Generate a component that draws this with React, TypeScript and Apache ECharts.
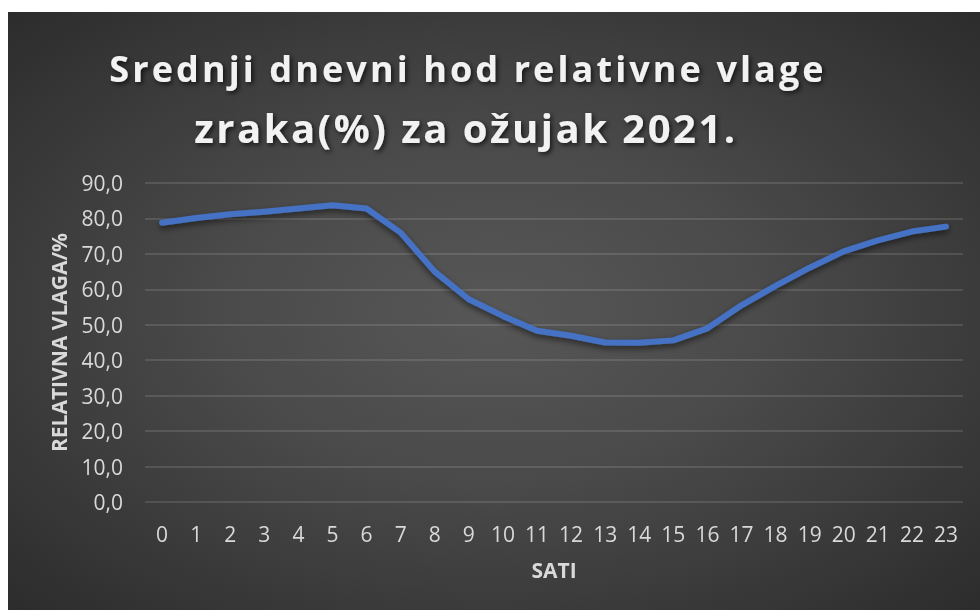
import React, { useEffect, useRef } from "react";
import * as echarts from "echarts";

const hours = ["0","1","2","3","4","5","6","7","8","9","10","11","12","13","14","15","16","17","18","19","20","21","22","23"];
const humidity = [78.8, 80.1, 81.2, 81.9, 82.8, 83.7, 82.8, 76.0, 65.0, 57.2, 52.5, 48.3, 46.9, 45.0, 44.9, 45.6, 49.0, 55.5, 61.0, 66.1, 70.7, 73.8, 76.3, 77.7];
const titleLines = ["Srednji dnevni hod relativne vlage", "zraka(%) za ožujak 2021."];
const yAxisName = "RELATIVNA VLAGA/%";
const xAxisName = "SATI";

export default function App() {
  const ref = useRef<HTMLDivElement>(null);
  useEffect(() => {
    if (!ref.current) return;
    const chart = echarts.init(ref.current, undefined, { renderer: "svg" });
    const titleStyle = {
      fill: "#f2f2f2",
      align: "center",
      verticalAlign: "top",
      textShadowColor: "rgba(0,0,0,0.7)",
      textShadowBlur: 5,
      textShadowOffsetX: 2,
      textShadowOffsetY: 2,
    };
    chart.setOption({
      animation: false,
      graphic: [
        { type: "text", x: 460, y: 38, style: { ...titleStyle, font: "bold 36px 'Open Sans'", text: titleLines[0] } },
        { type: "text", x: 458, y: 95, style: { ...titleStyle, font: "bold 40px 'Open Sans'", text: titleLines[1] } },
      ],
      grid: { left: 137, right: 17, top: 171, bottom: 108 },
      xAxis: {
        type: "category",
        data: hours,
        boundaryGap: true,
        name: xAxisName,
        nameLocation: "middle",
        nameGap: 57,
        nameTextStyle: { color: "#d9d9d9", fontFamily: "Open Sans", fontWeight: "bold", fontSize: 21 },
        axisLine: { show: false },
        axisTick: { show: false },
        axisLabel: { color: "#d9d9d9", fontFamily: "Open Sans", fontSize: 21, margin: 21, interval: 0 },
      },
      yAxis: {
        type: "value",
        min: 0,
        max: 90,
        interval: 10,
        name: yAxisName,
        nameLocation: "middle",
        nameGap: 76,
        nameTextStyle: { color: "#d9d9d9", fontFamily: "Open Sans", fontWeight: "bold", fontSize: 21 },
        axisLine: { show: false },
        axisTick: { show: false },
        axisLabel: {
          color: "#d9d9d9",
          fontFamily: "Open Sans",
          fontSize: 21,
          margin: 22,
          formatter: (v: number) => v.toFixed(1).replace(".", ","),
        },
        splitLine: { lineStyle: { color: "rgba(255,255,255,0.16)", width: 1.5 } },
      },
      series: [
        {
          type: "line",
          data: humidity,
          symbol: "none",
          lineStyle: {
            color: "#4472C4",
            width: 6,
            cap: "round",
            join: "round",
            shadowColor: "rgba(0,0,0,0.55)",
            shadowBlur: 6,
            shadowOffsetY: 3,
          },
        },
      ],
    });
    const spacing: Record<string, string> = { [titleLines[0]]: "3.1", [titleLines[1]]: "2.5" };
    ref.current.querySelectorAll("text").forEach((t) => {
      const s = spacing[t.textContent || ""];
      if (s) t.setAttribute("letter-spacing", s);
    });
    return () => chart.dispose();
  }, []);
  return (
    <div
      ref={ref}
      style={{
        position: "fixed",
        left: 8,
        top: 12,
        width: 972,
        height: 598,
        background: "radial-gradient(ellipse at 50% 50%, #575757 0%, #4a4a4a 40%, #2c2c2c 100%)",
      }}
    />
  );
}
